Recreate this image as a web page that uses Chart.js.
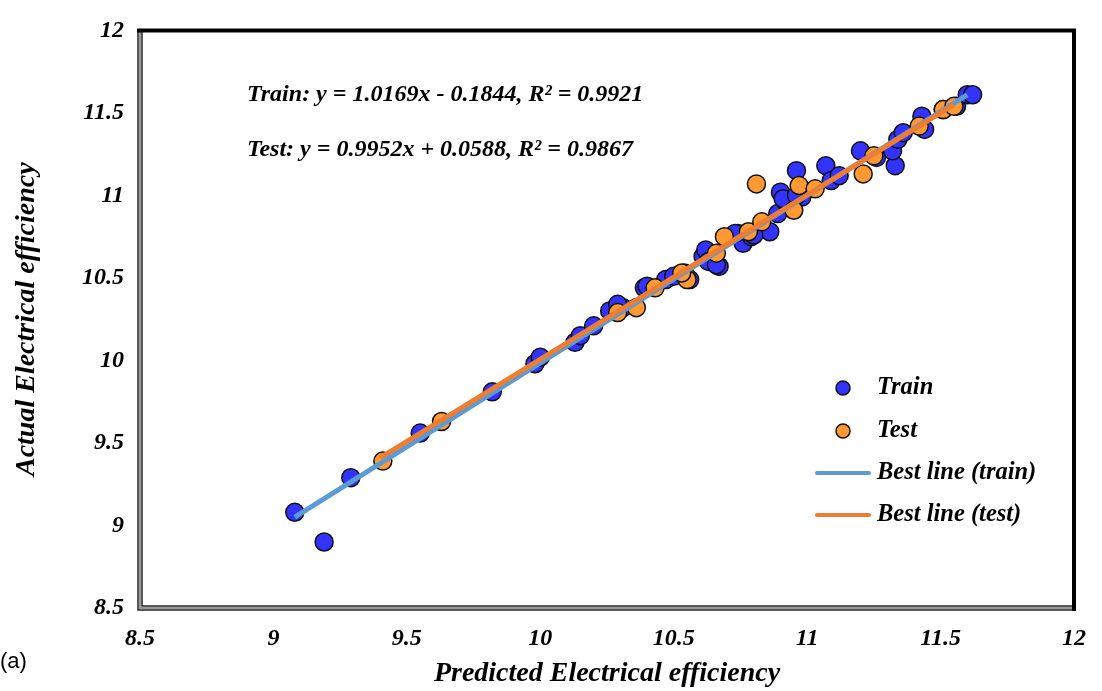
<!DOCTYPE html>
<html>
<head>
<meta charset="utf-8">
<script src="https://cdn.jsdelivr.net/npm/chart.js@4"></script>
<style>
  body { margin: 0; background: #fff; }
  #wrap { position: relative; width: 1102px; height: 691px; }
</style>
</head>
<body>
<div id="wrap"><canvas id="effChart" width="1102" height="691"></canvas></div>
<script>
// predicted (x) vs actual (y) electrical efficiency
const trainX = [9.08, 9.19, 9.29, 9.55, 9.82, 9.98, 10.00, 10.13, 10.15, 10.20, 10.26, 10.31, 10.39, 10.29,
  10.40, 10.47, 10.50, 10.56, 10.61, 10.62, 10.67, 10.63, 10.74, 10.76, 10.79, 10.86, 10.89, 10.90, 10.92,
  10.96, 10.98, 11.07, 11.09, 11.12, 11.20, 11.26, 11.33, 11.32, 11.34, 11.36, 11.43, 11.44, 11.51, 11.56,
  11.60, 11.62, 10.73, 10.80, 10.91, 10.96, 10.66];
const trainY = [9.08, 8.90, 9.29, 9.56, 9.81, 9.98, 10.02, 10.11, 10.15, 10.21, 10.30, 10.32, 10.44, 10.34,
  10.45, 10.49, 10.51, 10.49, 10.63, 10.67, 10.57, 10.60, 10.77, 10.71, 10.75, 10.78, 10.89, 11.02, 10.96,
  11.15, 10.99, 11.18, 11.09, 11.12, 11.27, 11.23, 11.18, 11.27, 11.34, 11.38, 11.48, 11.40, 11.52, 11.54,
  11.61, 11.61, 10.77, 10.76, 10.98, 11.00, 10.58];
const testX = [9.41, 9.63, 10.29, 10.36, 10.43, 10.54, 10.66, 10.69, 10.78, 10.83, 10.81, 10.95, 10.97,
  11.03, 11.21, 11.25, 11.42, 11.51, 11.55, 10.55, 10.53];
const testY = [9.39, 9.63, 10.29, 10.32, 10.44, 10.53, 10.65, 10.75, 10.78, 10.84, 11.07, 10.91, 11.06,
  11.04, 11.13, 11.24, 11.42, 11.52, 11.54, 10.49, 10.53];
// best-fit line end points
const trainLineX = [9.08, 11.60];
const trainLineY = [9.05, 11.61];
const testLineX = [9.40, 11.55];
const testLineY = [9.41, 11.55];
const xTicks = [8.5, 9, 9.5, 10, 10.5, 11, 11.5, 12];
const xTickLabels = ['8.5', '9', '9.5', '10', '10.5', '11', '11.5', '12'];
const yTicks = [8.5, 9, 9.5, 10, 10.5, 11, 11.5, 12];
const yTickLabels = ['8.5', '9', '9.5', '10', '10.5', '11', '11.5', '12'];
const equations = ['Train: y = 1.0169x - 0.1844, R\u00b2 = 0.9921', 'Test: y = 0.9952x + 0.0588, R\u00b2 = 0.9867'];
const legendLabels = ['Train', 'Test', 'Best line (train)', 'Best line (test)'];

const SERIF = "'Liberation Serif', 'Times New Roman', serif";
const BLUE = '#3333ff';
const ORANGE = '#ff9933';
const LINE_BLUE = '#5b9bd5';
const LINE_ORANGE = '#ed7d31';

const pts = (xs, ys) => xs.map((x, i) => ({ x: x, y: ys[i] }));

const framePlugin = {
  id: 'frame',
  beforeDatasetsDraw(chart) {
    const { ctx, chartArea: a } = chart;
    ctx.save();
    // left / bottom: double line
    ctx.strokeStyle = '#222';
    ctx.lineWidth = 1.5;
    ctx.beginPath();
    ctx.moveTo(a.left - 2, a.top); ctx.lineTo(a.left - 2, a.bottom + 2); ctx.lineTo(a.right, a.bottom + 2);
    ctx.moveTo(a.left + 2, a.top); ctx.lineTo(a.left + 2, a.bottom - 2); ctx.lineTo(a.right, a.bottom - 2);
    ctx.stroke();
    ctx.strokeStyle = '#999';
    ctx.lineWidth = 2;
    ctx.beginPath();
    ctx.moveTo(a.left, a.top); ctx.lineTo(a.left, a.bottom); ctx.lineTo(a.right, a.bottom);
    ctx.stroke();
    // top / right: thick black
    ctx.strokeStyle = '#000';
    ctx.lineWidth = 4;
    ctx.beginPath();
    ctx.moveTo(a.left - 3, a.top); ctx.lineTo(a.right, a.top); ctx.lineTo(a.right, a.bottom + 3);
    ctx.stroke();
    ctx.restore();
  },
  afterDraw(chart) {
    const { ctx } = chart;
    ctx.save();
    ctx.fillStyle = '#000';
    ctx.textBaseline = 'middle';
    ctx.font = 'italic bold 24px ' + SERIF;
    ctx.fillText(equations[0], 247, 95);
    ctx.fillText(equations[1], 247, 150);

    // legend inside the plot
    const rows = [388, 431, 473, 515];
    ctx.font = 'italic bold 24.5px ' + SERIF;
    rows.forEach((y, i) => {
      if (i < 2) {
        ctx.beginPath();
        ctx.arc(843, y, 7, 0, Math.PI * 2);
        ctx.fillStyle = i === 0 ? BLUE : ORANGE;
        ctx.fill();
        ctx.lineWidth = 1.5;
        ctx.strokeStyle = '#111';
        ctx.stroke();
      } else {
        ctx.beginPath();
        ctx.moveTo(817, y); ctx.lineTo(869, y);
        ctx.lineWidth = 4;
        ctx.lineCap = 'round';
        ctx.strokeStyle = i === 2 ? LINE_BLUE : LINE_ORANGE;
        ctx.stroke();
      }
      ctx.fillStyle = '#000';
      ctx.fillText(legendLabels[i], 877, y);
    });

    ctx.font = '22px ' + "'Liberation Sans', Arial, sans-serif";
    ctx.fillText('(a)', 0, 662);
    ctx.restore();
  }
};

new Chart(document.getElementById('effChart').getContext('2d'), {
  type: 'scatter',
  data: {
    datasets: [
      {
        label: legendLabels[0],
        data: pts(trainX, trainY),
        backgroundColor: BLUE,
        borderColor: '#111',
        borderWidth: 1.5,
        pointRadius: 9,
        order: 4
      },
      {
        label: legendLabels[1],
        data: pts(testX, testY),
        backgroundColor: ORANGE,
        borderColor: '#111',
        borderWidth: 1.5,
        pointRadius: 9,
        order: 3
      },
      {
        type: 'line',
        label: legendLabels[2],
        data: pts(trainLineX, trainLineY),
        borderColor: LINE_BLUE,
        borderWidth: 5,
        pointRadius: 0,
        fill: false,
        order: 2
      },
      {
        type: 'line',
        label: legendLabels[3],
        data: pts(testLineX, testLineY),
        borderColor: LINE_ORANGE,
        borderWidth: 5,
        pointRadius: 0,
        fill: false,
        order: 1
      }
    ]
  },
  options: {
    responsive: false,
    animation: false,
    layout: { padding: { top: 20, right: 24, left: 0, bottom: 0 } },
    plugins: { legend: { display: false }, tooltip: { enabled: false } },
    scales: {
      x: {
        type: 'linear',
        min: 8.5,
        max: 12,
        grid: { display: false, drawTicks: false },
        border: { display: false },
        afterBuildTicks: (s) => { s.ticks = xTicks.map(v => ({ value: v })); },
        afterFit: (s) => { s.height = 83; },
        ticks: {
          padding: 16,
          color: '#000',
          font: { family: SERIF, size: 24, style: 'italic', weight: 'bold' },
          callback: (v, i) => xTickLabels[i]
        },
        title: {
          display: true,
          text: 'Predicted Electrical efficiency',
          color: '#000',
          padding: { top: 0, bottom: 0 },
          font: { family: SERIF, size: 28, style: 'italic', weight: 'bold' }
        }
      },
      y: {
        type: 'linear',
        min: 8.5,
        max: 12,
        grid: { display: false, drawTicks: false },
        border: { display: false },
        afterBuildTicks: (s) => { s.ticks = yTicks.map(v => ({ value: v })); },
        afterFit: (s) => { s.width = 140; },
        ticks: {
          padding: 16,
          color: '#000',
          font: { family: SERIF, size: 24, style: 'italic', weight: 'bold' },
          callback: (v, i) => yTickLabels[i]
        },
        title: {
          display: true,
          text: 'Actual Electrical efficiency',
          color: '#000',
          padding: { top: 10, bottom: 0 },
          font: { family: SERIF, size: 28, style: 'italic', weight: 'bold' }
        }
      }
    }
  },
  plugins: [framePlugin]
});
</script>
</body>
</html>
